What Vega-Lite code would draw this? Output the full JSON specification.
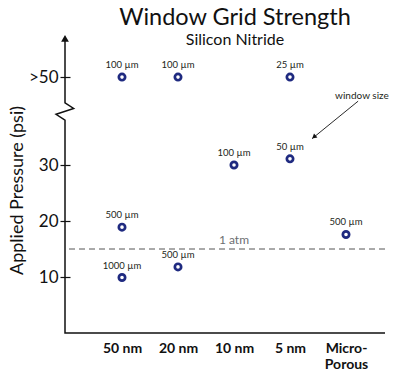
{
  "$schema": "https://vega.github.io/schema/vega-lite/v6.json",
  "width": 320,
  "height": 301,
  "autosize": {"type": "none"},
  "padding": {"left": 65, "top": 32, "right": 15, "bottom": 38},
  "background": "white",
  "config": {"view": {"stroke": null}, "font": "Lato"},
  "title": {
    "text": "Window Grid Strength",
    "subtitle": "Silicon Nitride",
    "anchor": "middle",
    "frame": "group",
    "fontSize": 23.5,
    "fontWeight": "normal",
    "subtitleFontSize": 16,
    "color": "#111111",
    "subtitleColor": "#111111",
    "dx": 10,
    "offset": -16,
    "subtitlePadding": 3
  },
  "encoding": {
    "y": {
      "field": "pressure",
      "type": "quantitative",
      "scale": {"domain": [0, 53.75], "nice": false, "zero": false},
      "axis": {
        "values": [10, 20, 30, 45.7],
        "labelExpr": "datum.value > 40 ? '>50' : datum.label",
        "domain": false,
        "grid": false,
        "offset": -5,
        "tickSize": 10,
        "tickColor": "#111111",
        "tickWidth": 1.2,
        "labelFontSize": 17,
        "labelColor": "#111111",
        "labelPadding": 2,
        "title": "Applied Pressure (psi)",
        "titleFontSize": 18,
        "titleFontWeight": "normal",
        "titleColor": "#111111",
        "titleX": -44,
        "titleY": 158,
        "titleAngle": -90
      }
    }
  },
  "resolve": {"scale": {"x": "independent"}, "axis": {"x": "independent"}},
  "layer": [
    {
      "data": {"values": [
        {"membrane": "50 nm", "pressure": 45.7, "window": "100 µm"},
        {"membrane": "20 nm", "pressure": 45.7, "window": "100 µm"},
        {"membrane": "5 nm", "pressure": 45.7, "window": "25 µm"},
        {"membrane": "50 nm", "pressure": 18.9, "window": "500 µm"},
        {"membrane": "50 nm", "pressure": 9.9, "window": "1000 µm"},
        {"membrane": "20 nm", "pressure": 11.8, "window": "500 µm"},
        {"membrane": "10 nm", "pressure": 30.0, "window": "100 µm"},
        {"membrane": "5 nm", "pressure": 31.1, "window": "50 µm"},
        {"membrane": "Micro-Porous", "pressure": 17.6, "window": "500 µm"}
      ]},
      "encoding": {
        "x": {
          "field": "membrane",
          "type": "nominal",
          "sort": null,
          "scale": {"type": "point", "domain": ["50 nm", "20 nm", "10 nm", "5 nm", "Micro-Porous"], "range": [57, 281], "padding": 0},
          "axis": {
            "title": null,
            "domain": false,
            "ticks": false,
            "labelAngle": 0,
            "labelFontSize": 14,
            "labelFontWeight": "bold",
            "labelColor": "#111111",
            "labelPadding": 8,
            "labelLineHeight": 16,
            "labelExpr": "datum.label == 'Micro-Porous' ? ['Micro-', 'Porous'] : datum.label"
          }
        }
      },
      "layer": [
        {
          "data": {"values": [{"pressure": 15, "membrane": "10 nm", "text": "1 atm"}]},
          "mark": {"type": "rule", "strokeDash": [6, 4], "color": "#555555", "strokeWidth": 1},
          "encoding": {"x": null}
        },
        {
          "data": {"values": [{"pressure": 15, "membrane": "10 nm", "text": "1 atm"}]},
          "mark": {"type": "text", "fontSize": 12, "color": "#6d6e71", "baseline": "alphabetic", "dy": -5},
          "encoding": {"text": {"field": "text"}}
        },
        {
          "mark": {"type": "point", "filled": false, "size": 40, "strokeWidth": 2.7, "color": "#1f2a80", "opacity": 1},
          "encoding": {}
        },
        {
          "mark": {"type": "text", "fontSize": 9.5, "color": "#231f20", "baseline": "alphabetic", "dy": -9},
          "encoding": {"text": {"field": "window"}}
        }
      ]
    },
    {
      "encoding": {
        "x": {"field": "u", "type": "quantitative", "scale": {"domain": [0, 10], "nice": false, "zero": false}, "axis": null}
      },
      "layer": [
        {
          "data": {"values": [
            {"u": 0, "pressure": 52.9, "i": 1},
            {"u": 0, "pressure": 41.1, "i": 2},
            {"u": 0.27, "pressure": 40.1, "i": 3},
            {"u": -0.28, "pressure": 39.05, "i": 4},
            {"u": 0, "pressure": 38.0, "i": 5},
            {"u": 0, "pressure": 0, "i": 6},
            {"u": 10, "pressure": 0, "i": 7}
          ]},
          "mark": {"type": "line", "color": "#111111", "strokeWidth": 1.5, "clip": false},
          "encoding": {"order": {"field": "i", "type": "quantitative"}}
        },
        {
          "data": {"values": [{"u": 0, "pressure": 52.6}]},
          "mark": {"type": "point", "shape": "triangle-up", "filled": true, "size": 60, "color": "#111111", "opacity": 1, "clip": false},
          "encoding": {}
        },
        {
          "data": {"values": [
            {"u": 9.16, "pressure": 41.4, "i": 1},
            {"u": 7.72, "pressure": 34.7, "i": 2}
          ]},
          "mark": {"type": "line", "color": "#111111", "strokeWidth": 0.9},
          "encoding": {"order": {"field": "i", "type": "quantitative"}}
        },
        {
          "data": {"values": [{"u": 7.78, "pressure": 35.0}]},
          "mark": {"type": "point", "shape": "triangle-up", "filled": true, "size": 28, "color": "#111111", "opacity": 1, "angle": 230},
          "encoding": {}
        },
        {
          "data": {"values": [{"u": 9.28, "pressure": 41.8, "text": "window size"}]},
          "mark": {"type": "text", "fontSize": 10, "color": "#231f20", "baseline": "alphabetic"},
          "encoding": {"text": {"field": "text"}}
        }
      ]
    }
  ]
}
